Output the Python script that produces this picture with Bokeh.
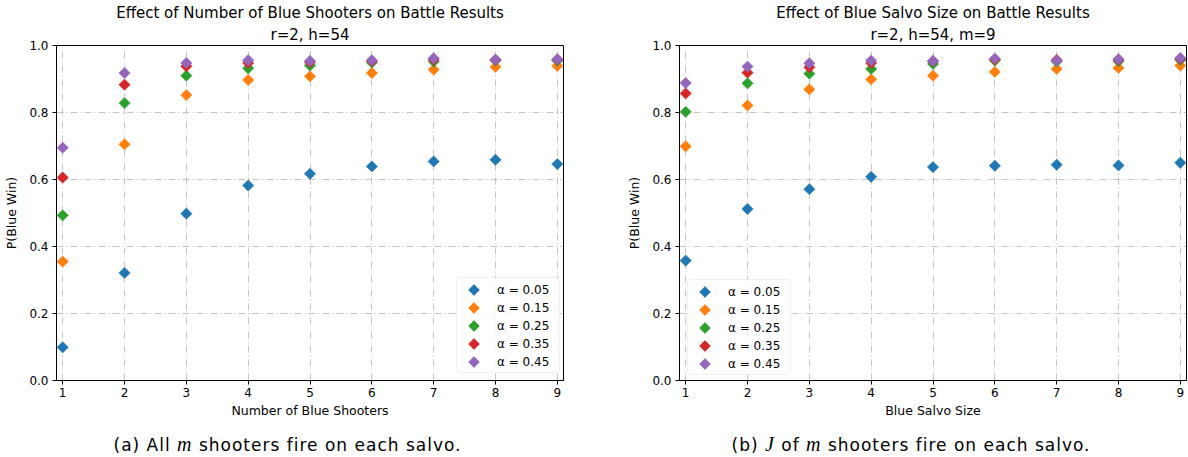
import math

from bokeh.embed import file_html
from bokeh.layouts import column, row
from bokeh.models import (BoxAnnotation, Div, FixedTicker, Label, PolyAnnotation,
                          Range1d, Title)
from bokeh.plotting import figure
from bokeh.resources import INLINE

# ---- data -------------------------------------------------------------
shooters = [1, 2, 3, 4, 5, 6, 7, 8, 9]
alpha_labels = ["α = 0.05", "α = 0.15", "α = 0.25", "α = 0.35", "α = 0.45"]
colors = ["#1f77b4", "#ff7f0e", "#2ca02c", "#d62728", "#9467bd"]
y_ticks = [0.0, 0.2, 0.4, 0.6, 0.8, 1.0]

# (a) all m shooters fire on each salvo
all_fire_a05 = [0.099, 0.321, 0.498, 0.582, 0.617, 0.639, 0.654, 0.659, 0.646]
all_fire_a15 = [0.355, 0.705, 0.852, 0.897, 0.908, 0.918, 0.928, 0.936, 0.939]
all_fire_a25 = [0.493, 0.828, 0.910, 0.932, 0.940, 0.949, 0.952, 0.955, 0.955]
all_fire_a35 = [0.606, 0.883, 0.938, 0.948, 0.950, 0.953, 0.958, 0.957, 0.958]
all_fire_a45 = [0.695, 0.918, 0.948, 0.956, 0.954, 0.956, 0.962, 0.958, 0.959]

# (b) J of m shooters fire on each salvo
salvo_a05 = [0.358, 0.512, 0.571, 0.608, 0.637, 0.641, 0.644, 0.642, 0.650]
salvo_a15 = [0.699, 0.821, 0.869, 0.899, 0.910, 0.921, 0.930, 0.933, 0.940]
salvo_a25 = [0.802, 0.887, 0.916, 0.930, 0.945, 0.955, 0.952, 0.953, 0.957]
salvo_a35 = [0.857, 0.919, 0.935, 0.948, 0.953, 0.958, 0.957, 0.957, 0.960]
salvo_a45 = [0.888, 0.937, 0.947, 0.955, 0.954, 0.961, 0.955, 0.959, 0.963]

FONT = "DejaVu Sans"
MARKER_SIZE = 8.0                      # side of the square before the 45 deg turn
HALF_DIAG = MARKER_SIZE * math.sqrt(2) / 2


def add_key(p, box_left, box_bottom):
    """Boxed key in frame pixels: a diamond and a label per series."""
    w, h, row_h = 103, 95, 18
    p.add_layout(BoxAnnotation(left=box_left, right=box_left + w,
                               bottom=box_bottom, top=box_bottom + h,
                               left_units="screen", right_units="screen",
                               bottom_units="screen", top_units="screen",
                               fill_color="#ffffff", fill_alpha=0.8,
                               line_color="#cccccc", line_width=1,
                               border_radius=3))
    for k, (col, lab) in enumerate(zip(colors, alpha_labels)):
        cy = box_bottom + h - 12.5 - row_h * k
        cx = box_left + 17.5
        d = HALF_DIAG
        p.add_layout(PolyAnnotation(xs=[cx - d, cx, cx + d, cx],
                                    ys=[cy, cy + d, cy, cy - d],
                                    xs_units="screen", ys_units="screen",
                                    fill_color=col, fill_alpha=1.0,
                                    line_color=col, line_width=0.5))
        p.add_layout(Label(x=box_left + 40.5, y=cy, x_units="screen",
                           y_units="screen", text=lab, text_baseline="middle",
                           text_align="left", text_font=FONT,
                           text_font_size="12px", text_color="#000000"))


def make_panel(series, title_main, title_sub, x_label, width, border_left,
               border_right, key_pos):
    p = figure(width=width, height=420, output_backend="svg",
               toolbar_location=None, tools="",
               x_range=Range1d(0.9, 9.1), y_range=Range1d(0.0, 1.0),
               min_border_left=border_left, min_border_right=border_right,
               min_border_top=45, min_border_bottom=0)
    p.title = None
    p.add_layout(Title(text=title_sub, align="center", text_font=FONT,
                       text_font_size="15px", text_font_style="normal",
                       text_color="#000000", offset=0, standoff=4), "above")
    p.add_layout(Title(text=title_main, align="center", text_font=FONT,
                       text_font_size="15px", text_font_style="normal",
                       text_color="#000000", standoff=0), "above")

    for vals, col in zip(series, colors):
        p.scatter(shooters, vals, marker="square", angle=math.pi / 4,
                  size=MARKER_SIZE, fill_color=col, line_color=col,
                  line_width=0.5)

    add_key(p, *key_pos)

    p.outline_line_color = "#000000"
    p.outline_line_width = 1
    p.background_fill_color = "#ffffff"

    for ax in (p.xaxis[0], p.yaxis[0]):
        ax.axis_line_color = "#000000"
        ax.major_tick_line_color = "#000000"
        ax.major_tick_in = 0
        ax.major_tick_out = 4
        ax.minor_tick_line_color = None
        ax.major_label_text_font = FONT
        ax.major_label_text_font_size = "12px"
        ax.major_label_text_color = "#000000"
        ax.axis_label_text_font = FONT
        ax.axis_label_text_font_size = "12.5px"
        ax.axis_label_text_font_style = "normal"
        ax.axis_label_text_color = "#000000"

    p.xaxis.ticker = FixedTicker(ticks=shooters)
    p.yaxis.ticker = FixedTicker(ticks=y_ticks)
    p.yaxis.major_label_overrides = {t: f"{t:.1f}" for t in y_ticks}
    p.xaxis.axis_label = x_label
    p.yaxis.axis_label = "P(Blue Win)"
    p.xaxis.major_label_standoff = 3
    p.xaxis.axis_label_standoff = 3
    p.yaxis.major_label_standoff = 4
    p.yaxis.axis_label_standoff = 7

    for g in (p.xgrid[0], p.ygrid[0]):
        g.grid_line_color = "#b8b8b8"
        g.grid_line_width = 0.8
        g.grid_line_dash = "7 3 1 3"
    return p


left = make_panel([all_fire_a05, all_fire_a15, all_fire_a25, all_fire_a35, all_fire_a45],
                  "Effect of Number of Blue Shooters on Battle Results",
                  "r=2, h=54", "Number of Blue Shooters",
                  620, 56, 57, (400, 8))
right = make_panel([salvo_a05, salvo_a15, salvo_a25, salvo_a35, salvo_a45],
                   "Effect of Blue Salvo Size on Battle Results",
                   "r=2, h=54, m=9", "Blue Salvo Size",
                   568, 59, 2, (8, 6))

CAP_STYLE = ("font-family:'DejaVu Sans';font-size:17px;letter-spacing:1px;"
             "color:#000;text-align:center;white-space:nowrap;line-height:20px;"
             "padding-top:14px;")
MATH = "font-family:'Liberation Serif';font-style:italic;font-size:20px;"

cap_left = Div(text=(f'<div style="{CAP_STYLE}width:575px;">(a) All '
                     f'<span style="{MATH}">m</span> shooters fire on each salvo.</div>'),
               width=620, height=37, margin=(0, 0, 0, 0))
cap_right = Div(text=(f'<div style="{CAP_STYLE}width:582px;">(b) '
                      f'<span style="{MATH}">J</span> of '
                      f'<span style="{MATH}">m</span> shooters fire on each salvo.</div>'),
                width=568, height=37, margin=(0, 0, 0, 0))

p = row(column(left, cap_left, spacing=0), column(right, cap_right, spacing=0), spacing=0)

with open("out.html", "w") as f:
    f.write(file_html(p, INLINE))
